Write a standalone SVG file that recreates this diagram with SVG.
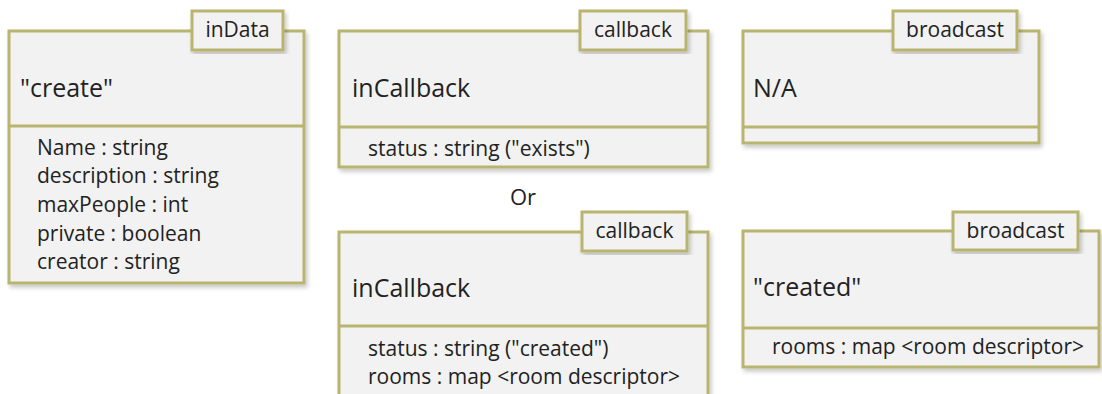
<svg xmlns="http://www.w3.org/2000/svg" width="1102" height="394" viewBox="0 0 1102 394">
<defs>
<filter id="sh" x="-5%" y="-5%" width="112%" height="115%">
<feDropShadow dx="2" dy="3" stdDeviation="2" flood-color="#000" flood-opacity="0.22"/>
</filter>
</defs>
<style>
.box{fill:#f2f2f2;stroke:#b9b56f;stroke-width:3;filter:url(#sh)}
.div{stroke:#b9b56f;stroke-width:3}
.tab{fill:#f2f2f2;stroke:#b9b56f;stroke-width:3;filter:url(#sh)}
text{font-family:"Open Sans",Lato,"Liberation Sans",sans-serif;fill:#222222}
.title{font-size:25px}
.attr{font-size:21px}
.tabt{font-size:21px;text-anchor:middle}
</style>
<rect width="1102" height="394" fill="#ffffff"/>
<g id="inData">
<rect class="box" x="9" y="31" width="295" height="252"/>
<line class="div" x1="9" y1="126" x2="304" y2="126"/>
<rect class="tab" x="192" y="11" width="91" height="39"/>
<text class="tabt" x="237.5" y="37">inData</text>
<text class="title" x="20" y="97">"create"</text>
<text class="attr" x="37" y="155">Name : string</text>
<text class="attr" x="37" y="183">description : string</text>
<text class="attr" x="37" y="212">maxPeople : int</text>
<text class="attr" x="37" y="241">private : boolean</text>
<text class="attr" x="37" y="269">creator : string</text>
</g>
<g id="callback1">
<rect class="box" x="339" y="31" width="369" height="136"/>
<line class="div" x1="339" y1="127" x2="708" y2="127"/>
<rect class="tab" x="580" y="11" width="106" height="39"/>
<text class="tabt" x="633" y="37">callback</text>
<text class="title" x="352" y="97">inCallback</text>
<text class="attr" x="368" y="156">status : string ("exists")</text>
</g>
<text id="or" x="523" y="205" text-anchor="middle" style="font-size:22px">Or</text>
<g id="callback2">
<rect class="box" x="339" y="232" width="369" height="175"/>
<line class="div" x1="339" y1="326" x2="708" y2="326"/>
<rect class="tab" x="582" y="212" width="105" height="39"/>
<text class="tabt" x="634.5" y="238">callback</text>
<text class="title" x="352" y="297">inCallback</text>
<text class="attr" x="368" y="356">status : string ("created")</text>
<text class="attr" x="368" y="384">rooms : map &lt;room descriptor&gt;</text>
</g>
<g id="broadcast1">
<rect class="box" x="743" y="31" width="296" height="112"/>
<line class="div" x1="743" y1="127" x2="1039" y2="127"/>
<rect class="tab" x="893" y="11" width="124" height="39"/>
<text class="tabt" x="955" y="37">broadcast</text>
<text class="title" x="753" y="97">N/A</text>
</g>
<g id="broadcast2">
<rect class="box" x="743" y="231" width="356" height="136"/>
<line class="div" x1="743" y1="328" x2="1099" y2="328"/>
<rect class="tab" x="953" y="212" width="125" height="38"/>
<text class="tabt" x="1015.5" y="238">broadcast</text>
<text class="title" x="753" y="296">"created"</text>
<text class="attr" x="772" y="354">rooms : map &lt;room descriptor&gt;</text>
</g>
<g id="connectors"></g>
</svg>
